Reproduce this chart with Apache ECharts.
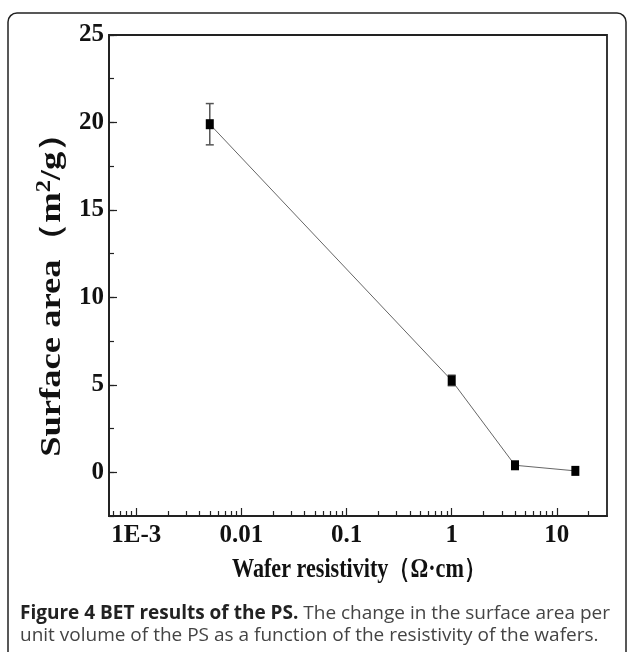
<!DOCTYPE html>
<html>
<head>
<meta charset="utf-8">
<script src="https://cdn.jsdelivr.net/npm/echarts@6/dist/echarts.min.js"></script>
<style>
html, body { margin: 0; padding: 0; background: #fff; }
#chart { width: 629px; height: 652px; }
</style>
</head>
<body>
<div id="chart"></div>
<script>
// data
var resistivity = [0.005, 1, 4, 15];          // Ω·cm
var surfaceArea = [19.9, 5.25, 0.4, 0.08];    // m2/g
var surfaceErr = [1.18, 0.3, 0, 0];
var xMajorTicks = [0.001, 0.01, 0.1, 1, 10];
var xTickLabels = ['1E-3', '0.01', '0.1', '1', '10'];
var yMajorTicks = [0, 5, 10, 15, 20, 25];

var xMin = 5.5e-4, xMax = 30;

var xMinorTicks = [];
[1e-4, 1e-3, 1e-2, 1e-1, 1, 10].forEach(function (d) {
    for (var k = 2; k <= 9; k++) {
        var v = +(d * k).toPrecision(3);
        if (v > xMin && v < xMax) xMinorTicks.push(v);
    }
});

var serif = '"Liberation Serif", "Times New Roman", serif';
var sans = '"Open Sans", "Noto Sans", sans-serif';
// the original figure is squeezed sideways, so the titles get stretched text
var squeeze = 0.82;

var dom = document.getElementById('chart');
var myChart = echarts.init(dom, null, {renderer: 'canvas'});

var points = resistivity.map(function (x, i) { return [x, surfaceArea[i]]; });
var errData = resistivity.map(function (x, i) {
    return [x, surfaceArea[i] - surfaceErr[i], surfaceArea[i] + surfaceErr[i]];
}).filter(function (d, i) { return surfaceErr[i] > 0; });

var option = {
    animation: false,
    backgroundColor: '#fff',
    title: {
        left: 15,
        top: 598,
        text: '{b|Figure 4 BET results of the PS.}{r| The change in the surface area per}\n{r|unit volume of the PS as a function of the resistivity of the wafers.}',
        textStyle: {
            fontWeight: 'normal',
            rich: {
                b: {fontFamily: sans, fontWeight: 'bold', fontSize: 19, color: '#222', lineHeight: 22},
                r: {fontFamily: sans, fontWeight: 'normal', fontSize: 19, color: '#444', lineHeight: 22}
            }
        }
    },
    graphic: [{
        type: 'rect',
        shape: {x: 8, y: 13, width: 618, height: 700, r: 9},
        style: {fill: 'none', stroke: '#222', lineWidth: 1.5},
        silent: true
    }, {
        // x axis title
        type: 'text',
        x: 359, y: 570,
        scaleX: squeeze,
        style: {
            text: 'Wafer resistivity（Ω·cm）',
            fontFamily: serif, fontWeight: 'bold', fontSize: 27, fill: '#111',
            align: 'center', verticalAlign: 'middle'
        },
        silent: true
    }, {
        // y axis title
        type: 'text',
        x: 52, y: 286,
        rotation: Math.PI / 2,
        scaleX: 1 / squeeze,
        style: {
            text: '{a|Surface area（m}{s|2}{a|/g）}',
            align: 'center', verticalAlign: 'middle',
            rich: {
                a: {fontFamily: serif, fontWeight: 'bold', fontSize: 30, fill: '#111', lineHeight: 34},
                s: {fontFamily: serif, fontWeight: 'bold', fontSize: 20, fill: '#111', verticalAlign: 'top', lineHeight: 22}
            }
        },
        silent: true
    }],
    grid: {
        left: 109, right: 22, top: 35, bottom: 136,
        show: true, borderColor: '#222', borderWidth: 1.8,
        containLabel: false, outerBoundsMode: 'none'
    },
    xAxis: [{
        type: 'log', logBase: 10, min: xMin, max: xMax,
        position: 'bottom',
        axisLine: {show: true, onZero: false, lineStyle: {color: '#222', width: 1.8}},
        axisTick: {inside: true, length: 8, customValues: xMajorTicks, lineStyle: {color: '#222', width: 1.2}},
        axisLabel: {
            customValues: xMajorTicks,
            margin: 7,
            fontFamily: serif, fontWeight: 'bold', fontSize: 25, color: '#111',
            formatter: function (v) {
                for (var i = 0; i < xMajorTicks.length; i++) {
                    if (Math.abs(v / xMajorTicks[i] - 1) < 1e-6) return xTickLabels[i];
                }
                return '';
            }
        },
        splitLine: {show: false}
    }, {
        type: 'log', logBase: 10, min: xMin, max: xMax,
        position: 'bottom',
        axisLine: {show: false, onZero: false},
        axisTick: {inside: true, length: 5, customValues: xMinorTicks, lineStyle: {color: '#222', width: 1.2}},
        axisLabel: {show: false},
        splitLine: {show: false}
    }],
    yAxis: [{
        type: 'value', min: -2.5, max: 25, interval: 2.5,
        position: 'left',
        axisLine: {show: true, onZero: false, lineStyle: {color: '#222', width: 1.8}},
        axisTick: {inside: true, length: 5, lineStyle: {color: '#222', width: 1.2}},
        axisLabel: {
            margin: 5,
            fontFamily: serif, fontWeight: 'bold', fontSize: 25, color: '#111',
            formatter: function (v) {
                return yMajorTicks.indexOf(v) >= 0 ? String(v) : '';
            }
        },
        splitLine: {show: false}
    }, {
        type: 'value', min: -2.5, max: 25,
        position: 'left',
        axisLine: {show: false},
        axisTick: {inside: true, length: 8, customValues: yMajorTicks, lineStyle: {color: '#222', width: 1.2}},
        axisLabel: {show: false},
        splitLine: {show: false}
    }],
    series: [{
        type: 'custom',
        xAxisIndex: 0, yAxisIndex: 0,
        data: errData,
        z: 1,
        renderItem: function (params, api) {
            var lo = api.coord([api.value(0), api.value(1)]);
            var hi = api.coord([api.value(0), api.value(2)]);
            var cap = 4;
            var style = {stroke: '#555', lineWidth: 1.5};
            return {
                type: 'group',
                children: [
                    {type: 'line', shape: {x1: lo[0], y1: lo[1], x2: hi[0], y2: hi[1]}, style: style},
                    {type: 'line', shape: {x1: lo[0] - cap, y1: lo[1], x2: lo[0] + cap, y2: lo[1]}, style: style},
                    {type: 'line', shape: {x1: hi[0] - cap, y1: hi[1], x2: hi[0] + cap, y2: hi[1]}, style: style}
                ]
            };
        }
    }, {
        type: 'line',
        xAxisIndex: 0, yAxisIndex: 0,
        data: points,
        z: 3,
        symbol: 'rect',
        symbolSize: [8, 10],
        itemStyle: {color: '#000'},
        lineStyle: {color: '#666', width: 1}
    }]
};

myChart.setOption(option);
</script>
</body>
</html>
